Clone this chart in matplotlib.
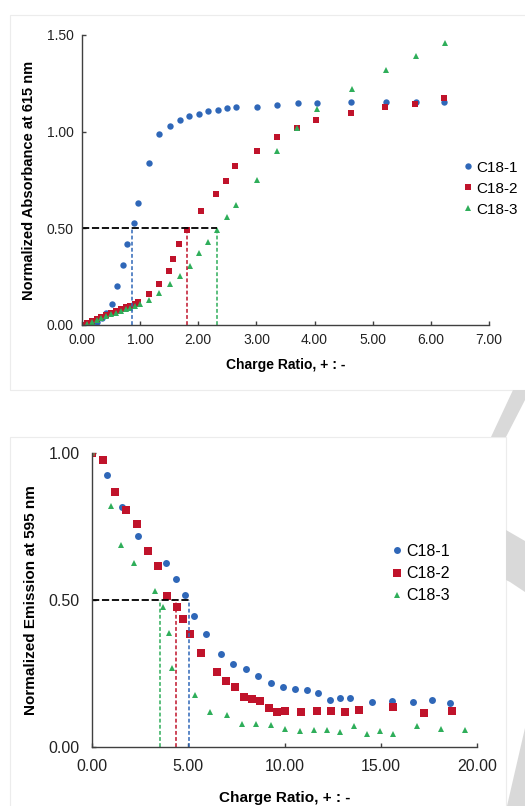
import numpy as np
import matplotlib.pyplot as plt
from matplotlib.patches import Rectangle, Polygon

plt.rcParams['font.family'] = ['Liberation Sans', 'DejaVu Sans']

# ---- top panel: absorbance at 615 nm vs charge ratio ----
abs_x1 = [0.0, 0.08, 0.17, 0.25, 0.34, 0.42, 0.52, 0.60, 0.70, 0.78, 0.89, 0.97,
          1.16, 1.32, 1.51, 1.68, 1.84, 2.01, 2.16, 2.34, 2.49, 2.65, 3.01, 3.35,
          3.71, 4.04, 4.63, 5.23, 5.74, 6.23]
abs_y1 = [0.0, 0.0, 0.005, 0.015, 0.035, 0.06, 0.107, 0.20, 0.31, 0.42, 0.53, 0.63,
          0.84, 0.99, 1.03, 1.06, 1.08, 1.09, 1.105, 1.11, 1.12, 1.126, 1.13, 1.14,
          1.147, 1.15, 1.155, 1.155, 1.155, 1.153]

abs_x2 = [0.0, 0.08, 0.17, 0.25, 0.33, 0.42, 0.50, 0.58, 0.67, 0.75, 0.83, 0.92,
          0.97, 1.16, 1.32, 1.49, 1.57, 1.67, 1.81, 2.04, 2.31, 2.47, 2.63, 3.01,
          3.35, 3.69, 4.03, 4.63, 5.21, 5.73, 6.22]
abs_y2 = [0.0, 0.012, 0.022, 0.032, 0.043, 0.053, 0.062, 0.072, 0.082, 0.091, 0.10, 0.11,
          0.12, 0.16, 0.21, 0.28, 0.34, 0.42, 0.49, 0.59, 0.68, 0.745, 0.82, 0.90,
          0.97, 1.02, 1.06, 1.097, 1.13, 1.143, 1.176]

abs_x3 = [0.0, 0.08, 0.17, 0.25, 0.33, 0.42, 0.50, 0.58, 0.67, 0.75, 0.83, 0.92,
          1.0, 1.16, 1.33, 1.51, 1.68, 1.85, 2.01, 2.17, 2.33, 2.50, 2.65, 3.01,
          3.35, 3.70, 4.04, 4.64, 5.23, 5.74, 6.25]
abs_y3 = [0.0, 0.006, 0.015, 0.025, 0.035, 0.045, 0.055, 0.064, 0.073, 0.082, 0.09, 0.10,
          0.11, 0.13, 0.164, 0.21, 0.255, 0.307, 0.37, 0.43, 0.49, 0.56, 0.62, 0.75,
          0.90, 1.02, 1.115, 1.22, 1.32, 1.39, 1.457]

abs_half = [0.86, 1.81, 2.32]   # charge ratio at half absorbance

# ---- bottom panel: emission at 595 nm vs charge ratio ----
em_x1 = [0.0, 0.78, 1.56, 2.39, 3.82, 4.34, 4.82, 5.31, 5.91, 6.68, 7.34, 8.0,
         8.6, 9.3, 9.94, 10.55, 11.15, 11.76, 12.37, 12.89, 13.39, 14.57, 15.61,
         16.67, 17.68, 18.61]
em_y1 = [1.0, 0.927, 0.816, 0.718, 0.625, 0.573, 0.517, 0.445, 0.384, 0.315, 0.281,
         0.264, 0.24, 0.217, 0.202, 0.197, 0.193, 0.182, 0.16, 0.166, 0.165, 0.151,
         0.156, 0.153, 0.159, 0.148]

em_x2 = [0.0, 0.57, 1.18, 1.73, 2.31, 2.90, 3.42, 3.87, 4.42, 4.72, 5.08, 5.67,
         6.47, 6.94, 7.41, 7.88, 8.33, 8.74, 9.18, 9.59, 10.04, 10.88, 11.69, 12.44,
         13.17, 13.9, 15.65, 17.24, 18.73]
em_y2 = [1.0, 0.977, 0.869, 0.807, 0.758, 0.666, 0.617, 0.513, 0.477, 0.435, 0.384,
         0.32, 0.255, 0.224, 0.202, 0.17, 0.161, 0.156, 0.131, 0.119, 0.123, 0.117,
         0.123, 0.123, 0.12, 0.125, 0.134, 0.114, 0.122]

em_x3 = [0.0, 0.97, 1.47, 2.19, 3.28, 3.66, 3.99, 4.16, 5.33, 6.14, 6.99, 7.81,
         8.52, 9.3, 10.04, 10.82, 11.52, 12.23, 12.9, 13.62, 14.31, 14.97, 15.66,
         16.88, 18.14, 19.39]
em_y3 = [1.0, 0.82, 0.686, 0.627, 0.53, 0.477, 0.388, 0.27, 0.177, 0.117, 0.109,
         0.077, 0.077, 0.074, 0.061, 0.052, 0.058, 0.056, 0.05, 0.07, 0.045, 0.052,
         0.044, 0.072, 0.059, 0.058]

em_half = [5.03, 4.34, 3.52]

labels = ['C18-1', 'C18-2', 'C18-3']
colors = ['#2f67b8', '#c0132b', '#2fae5a']
markers = ['o', 's', '^']

W, H = 525, 806
fig = plt.figure(figsize=(5.25, 8.06), dpi=100)


def px_box(x0, y0, x1, y1):
    # pixel box (top-left origin) -> figure fraction rect
    return (x0 / W, 1 - y1 / H), (x1 - x0) / W, (y1 - y0) / H


# faint panel frames
for box in [(10, 15, 530, 390), (10, 437, 506, 815)]:
    xy, w, h = px_box(*box)
    fig.patches.append(Rectangle(xy, w, h, transform=fig.transFigure, fill=False,
                                 edgecolor='#ececec', lw=0.8, zorder=0))


def style_axes(ax, tick_size, pad):
    for s in ['top', 'right']:
        ax.spines[s].set_visible(False)
    for s in ['left', 'bottom']:
        ax.spines[s].set_color('#404040')
        ax.spines[s].set_linewidth(1.0)
    ax.tick_params(direction='in', length=3, width=1, color='#404040',
                   labelsize=tick_size, labelcolor='#222222', pad=pad)


# top
ax1 = fig.add_axes([82 / W, 1 - 325 / H, 407 / W, 290 / H])
style_axes(ax1, 10, 6)
ms = [4.6, 4.4, 5.0]
for xs, ys, lab, c, m, s in zip([abs_x1, abs_x2, abs_x3], [abs_y1, abs_y2, abs_y3],
                                labels, colors, markers, ms):
    ax1.plot(xs, ys, linestyle='none', marker=m, color=c, markersize=s,
             markeredgewidth=0, label=lab)
ax1.plot([0, abs_half[2]], [0.5, 0.5], color='black', linestyle=(0, (4, 1.5)), lw=1.3)
for h, c in zip(abs_half, colors):
    ax1.plot([h, h], [0, 0.5], color=c, linestyle=(0, (2.5, 1.5)), lw=1.1)
ax1.set_xlim(0, 7)
ax1.set_ylim(0, 1.5)
ax1.set_xticks(np.arange(0, 7.01, 1.0))
ax1.set_yticks([0, 0.5, 1.0, 1.5])
ax1.xaxis.set_major_formatter('{x:.2f}')
ax1.yaxis.set_major_formatter('{x:.2f}')
ax1.set_xlabel('Charge Ratio, + : -', fontsize=10, fontweight='bold', labelpad=8)
ax1.set_ylabel('Normalized Absorbance at 615 nm', fontsize=10.5, fontweight='bold',
               labelpad=8)
ax1.legend(loc='center left', bbox_to_anchor=(0.905, 0.47), frameon=False,
           fontsize=11, handletextpad=-0.2, labelspacing=0.45, handlelength=1.5,
           borderaxespad=0)

# bottom
ax2 = fig.add_axes([92.3 / W, 1 - 746.7 / H, 384.4 / W, 293.3 / H])
style_axes(ax2, 11.5, 9)
ms = [5.0, 5.2, 4.6]
for xs, ys, lab, c, m, s in zip([em_x1, em_x2, em_x3], [em_y1, em_y2, em_y3],
                                labels, colors, markers, ms):
    ax2.plot(xs, ys, linestyle='none', marker=m, color=c, markersize=s,
             markeredgewidth=0, label=lab)
ax2.plot([0], [1.0], linestyle='none', marker='s', color='#8a6a4a', markersize=5,
         markeredgewidth=0)
ax2.plot([0, em_half[0]], [0.5, 0.5], color='black', linestyle=(0, (4, 1.5)), lw=1.3)
for h, c in zip(em_half, colors):
    ax2.plot([h, h], [0, 0.5], color=c, linestyle=(0, (2.5, 1.5)), lw=1.1)
ax2.set_xlim(0, 20)
ax2.set_ylim(0, 1.0)
ax2.set_xticks([0, 5, 10, 15, 20])
ax2.set_yticks([0, 0.5, 1.0])
ax2.xaxis.set_major_formatter('{x:.2f}')
ax2.yaxis.set_major_formatter('{x:.2f}')
ax2.set_xlabel('Charge Ratio, + : -', fontsize=11, fontweight='bold', labelpad=12)
ax2.set_ylabel('Normalized Emission at 595 nm', fontsize=11, fontweight='bold',
               labelpad=8)
ax2.legend(loc='center left', bbox_to_anchor=(0.745, 0.59), frameon=False,
           fontsize=11.5, handletextpad=-0.2, labelspacing=0.45, handlelength=1.5,
           borderaxespad=0)

# light grey watermark strokes on the right edge
wm = '#d9d9d9'
for pts in [[(491, 437), (513, 390), (525, 390), (525, 400), (506, 437)],
            [(506, 530), (525, 541), (525, 592), (510, 582), (506, 580)],
            [(507, 806), (525, 728), (525, 806)]]:
    fig.patches.append(Polygon([(px / W, 1 - py / H) for px, py in pts], closed=True,
                               transform=fig.transFigure, facecolor=wm,
                               edgecolor='none', zorder=0))

fig.savefig('out.png', dpi=100)
